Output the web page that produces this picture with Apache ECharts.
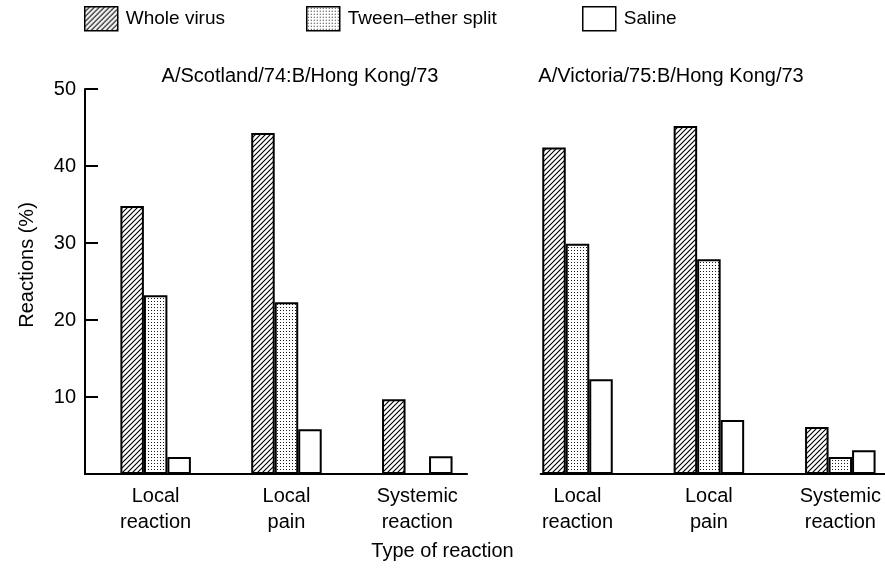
<!DOCTYPE html>
<html>
<head>
<meta charset="utf-8">
<script src="https://cdn.jsdelivr.net/npm/echarts@6/dist/echarts.min.js"></script>
<style>
  html, body { margin: 0; padding: 0; background: #fff; }
  #chart { width: 885px; height: 571px; }
</style>
</head>
<body>
<div id="chart"></div>
<script>
// Reaction types (x-axis categories)
const categories = ['Local\nreaction', 'Local\npain', 'Systemic\nreaction'];
const seriesNames = ['Whole virus', 'Tween–ether split', 'Saline'];
const panelTitles = ['A/Scotland/74:B/Hong Kong/73', 'A/Victoria/75:B/Hong Kong/73'];

// Reactions (%) — A/Scotland/74:B/Hong Kong/73
const scotlandWhole = [34.8, 44.3, 9.7];
const scotlandTween = [23.2, 22.3, 0];
const scotlandSaline = [2.2, 5.8, 2.3];

// Reactions (%) — A/Victoria/75:B/Hong Kong/73
const victoriaWhole = [42.4, 45.2, 6.1];
const victoriaTween = [29.9, 27.9, 2.2];
const victoriaSaline = [12.3, 7.0, 3.1];

const FONT = 'Liberation Sans, Arial, Helvetica, sans-serif';

// Fill patterns: diagonal hatching and stipple
function hatchCanvas() {
  const n = 5;
  const c = document.createElement('canvas');
  c.width = c.height = n;
  const g = c.getContext('2d');
  g.fillStyle = '#fff';
  g.fillRect(0, 0, n, n);
  g.strokeStyle = '#000';
  g.lineWidth = 1.15;
  g.beginPath();
  g.moveTo(0, n); g.lineTo(n, 0);
  g.moveTo(-1, 1); g.lineTo(1, -1);
  g.moveTo(n - 1, n + 1); g.lineTo(n + 1, n - 1);
  g.stroke();
  return c;
}
function dotCanvas() {
  const c = document.createElement('canvas');
  c.width = c.height = 3;
  const g = c.getContext('2d');
  g.fillStyle = '#fff';
  g.fillRect(0, 0, 3, 3);
  g.fillStyle = '#1a1a1a';
  g.fillRect(1, 1, 1, 1);
  return c;
}
const fills = [
  { image: hatchCanvas(), repeat: 'repeat' },
  { image: dotCanvas(), repeat: 'repeat' },
  '#ffffff'
];

const panels = [
  [scotlandWhole, scotlandTween, scotlandSaline],
  [victoriaWhole, victoriaTween, victoriaSaline]
];

const textStyle = { color: '#000', fontFamily: FONT, fontSize: 20 };

const series = [];
panels.forEach((vals, p) => {
  vals.forEach((arr, s) => {
    series.push({
      type: 'bar',
      name: seriesNames[s],
      xAxisIndex: p,
      yAxisIndex: p,
      barWidth: 23.5,
      barGap: '0%',
      data: arr.map((v, i) => [i, v]),
      itemStyle: { color: fills[s], borderColor: '#000', borderWidth: 2 },
      emphasis: { disabled: true },
      silent: true
    });
  });
});

function xAxisFor(gridIndex, min, max) {
  return {
    type: 'value',
    gridIndex,
    min, max,
    axisLine: { show: true, onZero: false, lineStyle: { color: '#000', width: 2 } },
    axisTick: { show: false },
    splitLine: { show: false },
    axisLabel: {
      customValues: [0, 1, 2],
      formatter: v => categories[Math.round(v)],
      ...textStyle,
      lineHeight: 26,
      margin: 9
    }
  };
}
function yAxisFor(gridIndex, visible) {
  return {
    type: 'value',
    gridIndex,
    min: 0, max: 50, interval: 10,
    show: visible,
    axisLine: { show: true, onZero: false, lineStyle: { color: '#000', width: 2 } },
    axisTick: { show: true, inside: true, length: 13, lineStyle: { color: '#000', width: 2 } },
    splitLine: { show: false },
    axisLabel: {
      showMinLabel: false,
      ...textStyle,
      margin: 9
    }
  };
}

const legendBase = {
  orient: 'horizontal',
  top: 6,
  padding: 0,
  icon: 'rect',
  itemWidth: 33,
  itemHeight: 24,
  selectedMode: false,
  textStyle: { ...textStyle, fontSize: 19, padding: [0, 0, 0, 3] },
  itemStyle: { borderColor: '#000', borderWidth: 1.5 }
};

const option = {
  backgroundColor: '#fff',
  animation: false,
  title: [
    { text: panelTitles[0], left: 295, top: 61, textAlign: 'center',
      textStyle: { ...textStyle, fontWeight: 'normal' } },
    { text: panelTitles[1], left: 666, top: 61, textAlign: 'center',
      textStyle: { ...textStyle, fontWeight: 'normal' } },
    { text: 'Type of reaction', left: 'center', top: 536,
      textStyle: { ...textStyle, fontWeight: 'normal' } }
  ],
  legend: [
    { ...legendBase, left: 84, data: [seriesNames[0]] },
    { ...legendBase, left: 306, data: [seriesNames[1]] },
    { ...legendBase, left: 582, data: [seriesNames[2]] }
  ],
  grid: [
    { left: 85, top: 89, width: 382, height: 385 },
    { left: 540.7, top: 89, width: 344.3, height: 385 }
  ],
  xAxis: [xAxisFor(0, -0.54, 2.38), xAxisFor(1, -0.28, 2.34)],
  yAxis: [yAxisFor(0, true), yAxisFor(1, false)],
  graphic: [{
    type: 'text',
    x: 27, y: 265,
    rotation: Math.PI / 2,
    style: { text: 'Reactions (%)', font: '20px ' + FONT, fill: '#000',
             align: 'center', verticalAlign: 'middle' }
  }],
  series
};

const chart = echarts.init(document.getElementById('chart'), null, { renderer: 'canvas' });
chart.setOption(option);
</script>
</body>
</html>
